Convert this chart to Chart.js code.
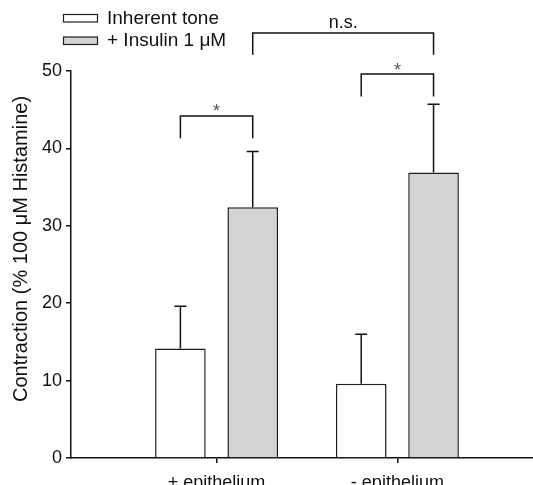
<!DOCTYPE html>
<html><head><meta charset="utf-8">
<script src="https://cdn.jsdelivr.net/npm/chart.js@4"></script>
<style>html,body{margin:0;padding:0;background:#fff}#c{display:block}</style>
</head><body>
<canvas id="c" width="533" height="485"></canvas>
<script>
const categories = ['+ epithelium', '- epithelium'];
const seriesLabels = ['Inherent tone', '+ Insulin 1 \u03bcM'];
const inherentTone = [14.15, 9.6];
const insulin = [32.4, 36.9];
const inherentToneErr = [5.45, 6.4];
const insulinErr = [7.2, 8.8];
const yTicks = [0, 10, 20, 30, 40, 50];
const yTitle = 'Contraction (% 100 \u03bcM Histamine)';
// significance brackets: endpoints as [series, category]; heights in data units
const bracketFrom = [[0, 0], [0, 1], [1, 0]];
const bracketTo = [[1, 0], [1, 1], [1, 1]];
const bracketTop = [44.2, 49.6, 54.9];
const bracketFoot = [41.3, 46.7, 52.1];
const bracketLabels = ['*', '*', 'n.s.'];

const FONT = '"Liberation Sans", Arial, Helvetica, sans-serif';
const INK = '#111';
const fills = ['#ffffff', '#d4d4d4'];
const values = [inherentTone, insulin];
const errors = [inherentToneErr, insulinErr];

const errorBars = {
  id: 'errorBars',
  afterDatasetsDraw(chart) {
    const ctx = chart.ctx, y = chart.scales.y;
    ctx.save();
    ctx.strokeStyle = INK; ctx.lineWidth = 1.5;
    values.forEach((vals, d) => {
      const meta = chart.getDatasetMeta(d);
      meta.data.forEach((el, i) => {
        const yc = y.getPixelForValue(vals[i] + errors[d][i]);
        ctx.beginPath();
        ctx.moveTo(el.x, el.y); ctx.lineTo(el.x, yc);
        ctx.moveTo(el.x - 6, yc); ctx.lineTo(el.x + 6, yc);
        ctx.stroke();
      });
    });
    ctx.restore();
  }
};

const annotations = {
  id: 'annotations',
  afterDraw(chart) {
    const ctx = chart.ctx, y = chart.scales.y;
    ctx.save();
    ctx.strokeStyle = INK; ctx.lineWidth = 1.5;
    bracketLabels.forEach((lab, k) => {
      const a = chart.getDatasetMeta(bracketFrom[k][0]).data[bracketFrom[k][1]];
      const b = chart.getDatasetMeta(bracketTo[k][0]).data[bracketTo[k][1]];
      const yt = y.getPixelForValue(bracketTop[k]);
      const yf = y.getPixelForValue(bracketFoot[k]);
      ctx.beginPath();
      ctx.moveTo(a.x, yf); ctx.lineTo(a.x, yt); ctx.lineTo(b.x, yt); ctx.lineTo(b.x, yf);
      ctx.stroke();
      ctx.textAlign = 'center'; ctx.textBaseline = 'alphabetic';
      if (lab === '*') {
        ctx.fillStyle = '#555'; ctx.font = '18px ' + FONT;
        ctx.fillText(lab, (a.x + b.x) / 2, yt + 1.5);
      } else {
        ctx.fillStyle = INK; ctx.font = '18px ' + FONT;
        ctx.fillText(lab, (a.x + b.x) / 2, yt - 5.5);
      }
    });
    // y-axis title
    ctx.save();
    ctx.translate(21.7, 249);
    ctx.rotate(-Math.PI / 2);
    ctx.fillStyle = INK; ctx.font = '20px ' + FONT;
    ctx.textAlign = 'center'; ctx.textBaseline = 'middle';
    ctx.fillText(yTitle, 0, 0);
    ctx.restore();
    // legend
    ctx.font = '19px ' + FONT; ctx.textAlign = 'left'; ctx.textBaseline = 'middle';
    chart.data.datasets.forEach((ds, d) => {
      const top = 14.5 + d * 22.5;
      ctx.fillStyle = ds.backgroundColor; ctx.fillRect(63.5, top, 34, 7.5);
      ctx.strokeStyle = ds.borderColor; ctx.lineWidth = 1.2; ctx.strokeRect(63.5, top, 34, 7.5);
      ctx.fillStyle = INK; ctx.fillText(ds.label, 107, top + 4);
    });
    ctx.restore();
  }
};

function axisCommon() {
  return {
    grid: { display: true, offset: false, drawOnChartArea: false, drawTicks: true, tickLength: 5, color: INK, lineWidth: 1.5 },
    border: { display: true, color: INK, width: 1.5 }
  };
}

new Chart(document.getElementById('c'), {
  type: 'bar',
  data: {
    datasets: values.map((vals, d) => ({
      label: seriesLabels[d],
      data: categories.map((c, i) => ({ x: i + 1, y: vals[i] })),
      backgroundColor: fills[d],
      borderColor: '#1e1e1e',
      borderWidth: 1.5,
      categoryPercentage: 0.8,
      barPercentage: 0.7
    }))
  },
  options: {
    responsive: false,
    animation: false,
    layout: { padding: { top: 71, right: 0, bottom: 0, left: 0 } },
    plugins: { legend: { display: false }, tooltip: { enabled: false } },
    scales: {
      x: Object.assign({
        type: 'linear', min: 0.195, max: 2.75, offset: false,
        afterBuildTicks: a => { a.ticks = categories.map((c, i) => ({ value: i + 1 })); },
        afterFit: a => { a.height = 27; },
        ticks: { callback: v => categories[Math.round(v) - 1] || '', color: INK, font: { family: FONT, size: 18 }, padding: 9, maxRotation: 0, autoSkip: false }
      }, axisCommon()),
      y: Object.assign({
        min: 0, max: 50,
        afterBuildTicks: a => { a.ticks = yTicks.map(v => ({ value: v })); },
        afterFit: a => { a.width = 71; },
        ticks: { color: INK, font: { family: FONT, size: 18 }, padding: 4 }
      }, axisCommon())
    }
  },
  plugins: [errorBars, annotations]
});
</script>
</body></html>
